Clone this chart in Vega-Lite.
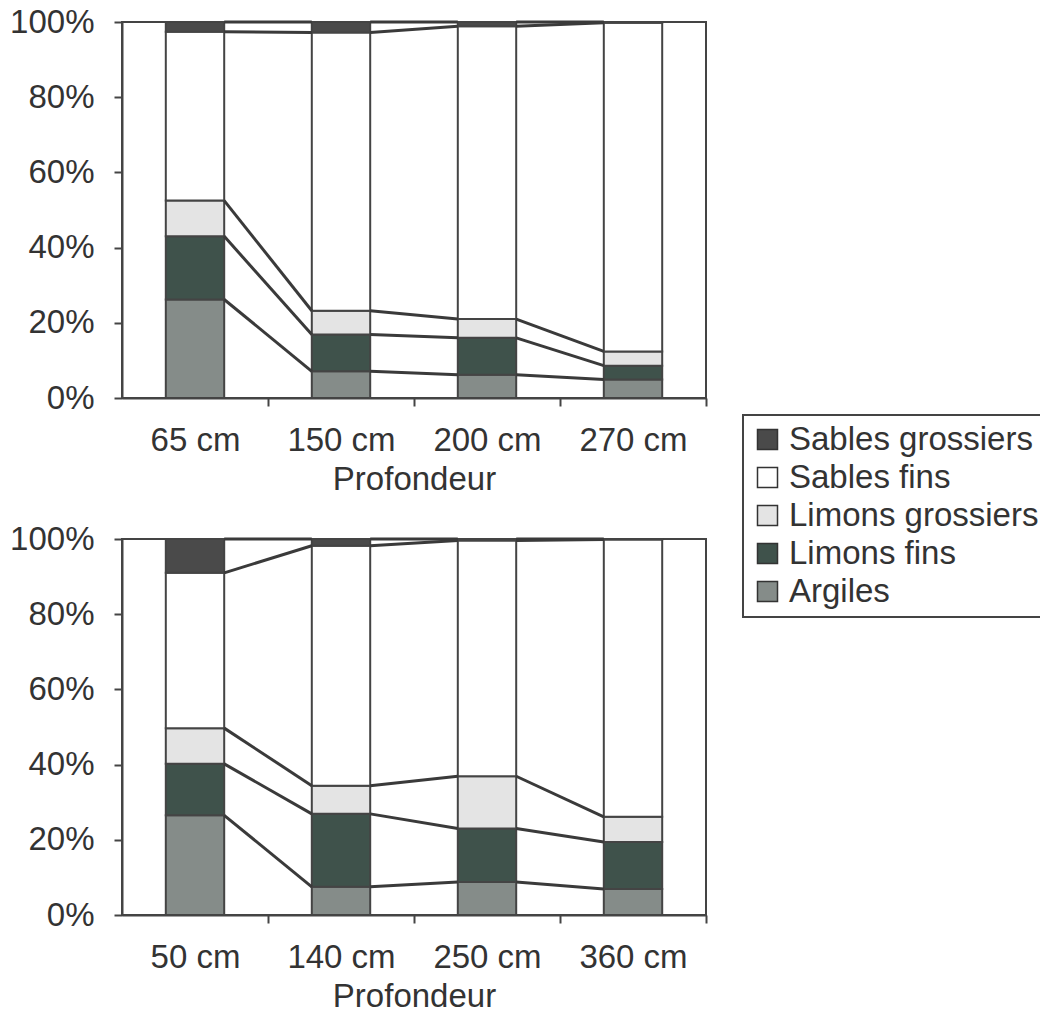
{
  "$schema": "https://vega.github.io/schema/vega-lite/v6.json",
  "padding": {"left": 8, "top": 5, "right": 5, "bottom": 5},
  "background": "white",
  "datasets": {
    "soil": [
      {"p": "A", "depth": "65 cm", "d": 65, "cls": "Argiles", "v": 26.2},
      {"p": "A", "depth": "65 cm", "d": 65, "cls": "Limons fins", "v": 16.8},
      {"p": "A", "depth": "65 cm", "d": 65, "cls": "Limons grossiers", "v": 9.5},
      {"p": "A", "depth": "65 cm", "d": 65, "cls": "Sables fins", "v": 44.9},
      {"p": "A", "depth": "65 cm", "d": 65, "cls": "Sables grossiers", "v": 2.6},
      {"p": "A", "depth": "150 cm", "d": 150, "cls": "Argiles", "v": 7.1},
      {"p": "A", "depth": "150 cm", "d": 150, "cls": "Limons fins", "v": 9.8},
      {"p": "A", "depth": "150 cm", "d": 150, "cls": "Limons grossiers", "v": 6.3},
      {"p": "A", "depth": "150 cm", "d": 150, "cls": "Sables fins", "v": 74.0},
      {"p": "A", "depth": "150 cm", "d": 150, "cls": "Sables grossiers", "v": 2.8},
      {"p": "A", "depth": "200 cm", "d": 200, "cls": "Argiles", "v": 6.2},
      {"p": "A", "depth": "200 cm", "d": 200, "cls": "Limons fins", "v": 9.8},
      {"p": "A", "depth": "200 cm", "d": 200, "cls": "Limons grossiers", "v": 5.0},
      {"p": "A", "depth": "200 cm", "d": 200, "cls": "Sables fins", "v": 77.9},
      {"p": "A", "depth": "200 cm", "d": 200, "cls": "Sables grossiers", "v": 1.1},
      {"p": "A", "depth": "270 cm", "d": 270, "cls": "Argiles", "v": 4.9},
      {"p": "A", "depth": "270 cm", "d": 270, "cls": "Limons fins", "v": 3.7},
      {"p": "A", "depth": "270 cm", "d": 270, "cls": "Limons grossiers", "v": 3.8},
      {"p": "A", "depth": "270 cm", "d": 270, "cls": "Sables fins", "v": 87.4},
      {"p": "A", "depth": "270 cm", "d": 270, "cls": "Sables grossiers", "v": 0.2},
      {"p": "B", "depth": "50 cm", "d": 50, "cls": "Argiles", "v": 26.5},
      {"p": "B", "depth": "50 cm", "d": 50, "cls": "Limons fins", "v": 13.7},
      {"p": "B", "depth": "50 cm", "d": 50, "cls": "Limons grossiers", "v": 9.5},
      {"p": "B", "depth": "50 cm", "d": 50, "cls": "Sables fins", "v": 41.3},
      {"p": "B", "depth": "50 cm", "d": 50, "cls": "Sables grossiers", "v": 9.0},
      {"p": "B", "depth": "140 cm", "d": 140, "cls": "Argiles", "v": 7.5},
      {"p": "B", "depth": "140 cm", "d": 140, "cls": "Limons fins", "v": 19.4},
      {"p": "B", "depth": "140 cm", "d": 140, "cls": "Limons grossiers", "v": 7.5},
      {"p": "B", "depth": "140 cm", "d": 140, "cls": "Sables fins", "v": 63.8},
      {"p": "B", "depth": "140 cm", "d": 140, "cls": "Sables grossiers", "v": 1.8},
      {"p": "B", "depth": "250 cm", "d": 250, "cls": "Argiles", "v": 8.8},
      {"p": "B", "depth": "250 cm", "d": 250, "cls": "Limons fins", "v": 14.2},
      {"p": "B", "depth": "250 cm", "d": 250, "cls": "Limons grossiers", "v": 13.9},
      {"p": "B", "depth": "250 cm", "d": 250, "cls": "Sables fins", "v": 62.7},
      {"p": "B", "depth": "250 cm", "d": 250, "cls": "Sables grossiers", "v": 0.4},
      {"p": "B", "depth": "360 cm", "d": 360, "cls": "Argiles", "v": 6.9},
      {"p": "B", "depth": "360 cm", "d": 360, "cls": "Limons fins", "v": 12.5},
      {"p": "B", "depth": "360 cm", "d": 360, "cls": "Limons grossiers", "v": 6.7},
      {"p": "B", "depth": "360 cm", "d": 360, "cls": "Sables fins", "v": 73.8},
      {"p": "B", "depth": "360 cm", "d": 360, "cls": "Sables grossiers", "v": 0.1}
    ]
  },
  "data": {"name": "soil"},
  "vconcat": [
    {
      "width": 584,
      "height": 376,
      "transform": [{"filter": "datum.p === 'A'"}],
      "layer": [
        {
          "mark": {"type": "bar", "stroke": "#444", "strokeWidth": 2},
          "encoding": {
            "x": {"field": "depth", "type": "ordinal", "scale": {"domain": ["65 cm", "150 cm", "200 cm", "270 cm"], "paddingInner": 0.6, "paddingOuter": 0.3},
                  "axis": {"title": "Profondeur", "labelAngle": 0, "tickOffset": 73, "labelOffset": -73, "labelPadding": 18, "titlePadding": 6}},
            "y": {"field": "v", "type": "quantitative", "stack": "zero", "scale": {"domain": [0, 100]},
                  "axis": {"title": null, "values": [0, 20, 40, 60, 80, 100], "labelExpr": "datum.value + '%'", "labelPadding": 20}},
            "color": {"field": "cls", "type": "nominal",
                      "scale": {"domain": ["Sables grossiers", "Sables fins", "Limons grossiers", "Limons fins", "Argiles"], "range": ["#4a4a4a", "#ffffff", "#e4e4e4", "#3f524b", "#858c89"]}},
            "order": {"field": "cls", "type": "ordinal", "sort": "ascending"}
          }
        },
        {
          "transform": [
            {"window": [{"op": "sum", "field": "v", "as": "top"}], "groupby": ["depth"], "sort": [{"field": "cls", "order": "ascending"}], "frame": [null, 0]},
            {"window": [{"op": "lead", "field": "depth", "as": "nd"}, {"op": "lead", "field": "top", "as": "nt"}], "groupby": ["cls"], "sort": [{"field": "d", "order": "ascending"}], "frame": [null, null]},
            {"filter": "datum.nd != null"}
          ],
          "mark": {"type": "rule", "stroke": "#3a3a3a", "strokeWidth": 3},
          "encoding": {
            "x": {"field": "depth", "type": "ordinal", "bandPosition": 1},
            "x2": {"field": "nd", "bandPosition": 0},
            "y": {"field": "top", "type": "quantitative"},
            "y2": {"field": "nt"}
          }
        }
      ]
    },
    {
      "width": 584,
      "height": 376,
      "transform": [{"filter": "datum.p === 'B'"}],
      "layer": [
        {
          "mark": {"type": "bar", "stroke": "#444", "strokeWidth": 2},
          "encoding": {
            "x": {"field": "depth", "type": "ordinal", "scale": {"domain": ["50 cm", "140 cm", "250 cm", "360 cm"], "paddingInner": 0.6, "paddingOuter": 0.3},
                  "axis": {"title": "Profondeur", "labelAngle": 0, "tickOffset": 73, "labelOffset": -73, "labelPadding": 18, "titlePadding": 6}},
            "y": {"field": "v", "type": "quantitative", "stack": "zero", "scale": {"domain": [0, 100]},
                  "axis": {"title": null, "values": [0, 20, 40, 60, 80, 100], "labelExpr": "datum.value + '%'", "labelPadding": 20}},
            "color": {"field": "cls", "type": "nominal",
                      "scale": {"domain": ["Sables grossiers", "Sables fins", "Limons grossiers", "Limons fins", "Argiles"], "range": ["#4a4a4a", "#ffffff", "#e4e4e4", "#3f524b", "#858c89"]}},
            "order": {"field": "cls", "type": "ordinal", "sort": "ascending"}
          }
        },
        {
          "transform": [
            {"window": [{"op": "sum", "field": "v", "as": "top"}], "groupby": ["depth"], "sort": [{"field": "cls", "order": "ascending"}], "frame": [null, 0]},
            {"window": [{"op": "lead", "field": "depth", "as": "nd"}, {"op": "lead", "field": "top", "as": "nt"}], "groupby": ["cls"], "sort": [{"field": "d", "order": "ascending"}], "frame": [null, null]},
            {"filter": "datum.nd != null"}
          ],
          "mark": {"type": "rule", "stroke": "#3a3a3a", "strokeWidth": 3},
          "encoding": {
            "x": {"field": "depth", "type": "ordinal", "bandPosition": 1},
            "x2": {"field": "nd", "bandPosition": 0},
            "y": {"field": "top", "type": "quantitative"},
            "y2": {"field": "nt"}
          }
        }
      ]
    }
  ],
  "spacing": 25,
  "resolve": {"scale": {"x": "independent"}},
  "config": {
    "font": "Liberation Sans",
    "view": {"stroke": "#444", "strokeWidth": 2},
    "axis": {
      "grid": false,
      "domainColor": "#444",
      "domainWidth": 2,
      "tickColor": "#444",
      "tickWidth": 2,
      "tickSize": 8,
      "labelFontSize": 33,
      "labelColor": "#333",
      "titleFontSize": 33,
      "titleFontWeight": "normal",
      "titleColor": "#333"
    },
    "legend": {
      "orient": "none",
      "legendX": 621,
      "legendY": 393,
      "title": null,
      "strokeColor": "#444",
      "strokeWidth": 2,
      "fillColor": "white",
      "padding": 8,
      "labelFontSize": 33,
      "labelColor": "#333",
      "labelLimit": 400,
      "labelOffset": 5,
      "symbolType": "square",
      "symbolSize": 400,
      "symbolStrokeColor": "#333",
      "symbolStrokeWidth": 1.5,
      "rowPadding": 4
    }
  }
}
